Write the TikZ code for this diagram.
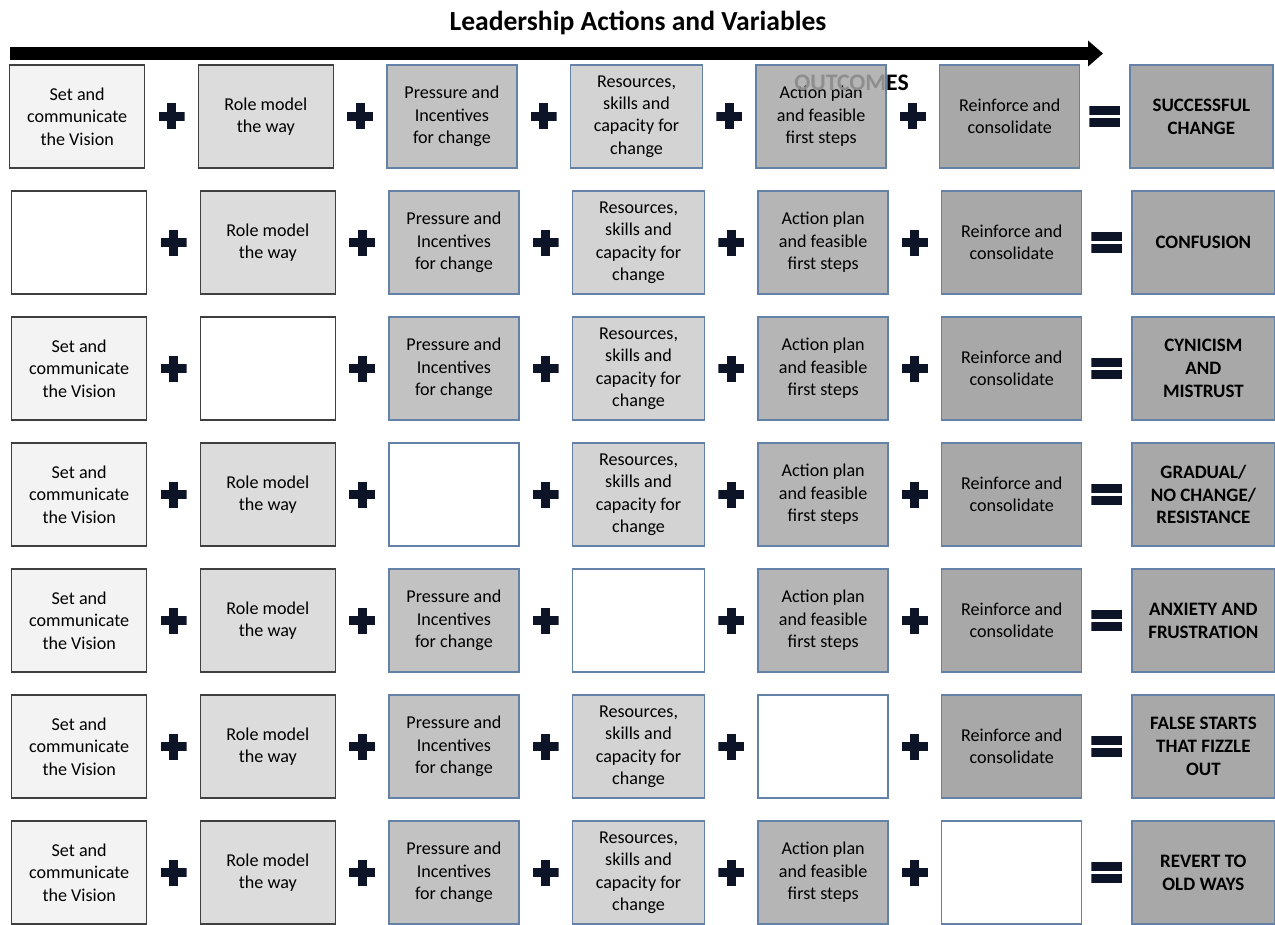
\documentclass[tikz,border=0pt]{standalone}
\usepackage{fontspec}
\setmainfont{Carlito}
\usetikzlibrary{arrows.meta, positioning}

\definecolor{darkline}{HTML}{3F3F3F}
\definecolor{blueline}{HTML}{6482A8}
\definecolor{visionfill}{HTML}{F3F3F3}
\definecolor{rolefill}{HTML}{DCDCDC}
\definecolor{pressurefill}{HTML}{C2C2C2}
\definecolor{resourcesfill}{HTML}{D3D3D3}
\definecolor{planfill}{HTML}{B5B5B5}
\definecolor{reinforcefill}{HTML}{A8A8A8}
\definecolor{opcolor}{HTML}{0E1428}
\definecolor{outgray}{HTML}{8E8E8E}

\tikzstyle{box} = [rectangle, 
			draw=darkline, 
			line width=0.8pt, 
			text centered, 
			align=center, 
			inner sep=0pt, 
			minimum height=2.06cm, 
			font=\fontsize{10.3}{12.8}\selectfont]
\tikzstyle{vision} = [box, fill=visionfill, minimum width=2.7cm]
\tikzstyle{role} = [box, fill=rolefill, minimum width=2.7cm]
\tikzstyle{pressure} = [box, draw=blueline, fill=pressurefill, minimum width=2.6cm]
\tikzstyle{resources} = [box, draw=blueline, fill=resourcesfill, minimum width=2.64cm]
\tikzstyle{plan} = [box, draw=blueline, fill=planfill, minimum width=2.6cm]
\tikzstyle{reinforce} = [box, draw=blueline, fill=reinforcefill, minimum width=2.8cm]
\tikzstyle{outcome} = [box, draw=blueline, fill=reinforcefill, minimum width=2.86cm, 
			font=\fontsize{10.8}{13}\selectfont\bfseries]
\tikzstyle{blank} = [fill=white]
\tikzstyle{plus} = [rectangle, minimum size=0.52cm, inner sep=0pt, 
			path picture={
				\fill[opcolor] (path picture bounding box.center) ++(-0.26,-0.09) rectangle ++(0.52,0.18);
				\fill[opcolor] (path picture bounding box.center) ++(-0.09,-0.26) rectangle ++(0.18,0.52);
			}]
\tikzstyle{equals} = [rectangle, minimum width=0.62cm, minimum height=0.42cm, inner sep=0pt, 
			path picture={
				\fill[opcolor] (path picture bounding box.center) ++(-0.31,0.03) rectangle ++(0.62,0.18);
				\fill[opcolor] (path picture bounding box.center) ++(-0.31,-0.03) rectangle ++(0.62,-0.18);
			}]

\begin{document}
\begin{tikzpicture}[node distance = 0.255cm]
	\useasboundingbox (0,0) rectangle (25.5,-18.48);

	\node [font=\fontsize{15.7}{18}\selectfont\bfseries] (title) at (12.76,-0.46) {Leadership Actions and Variables};
	\coordinate (arrowtail) at (0.2,-1.07);
	\coordinate (arrowtip) at (22.06,-1.07);
	\draw [line width=0.26cm, -{Triangle[length=0.3cm, width=0.5cm]}] (arrowtail) -- (arrowtip);

	\node [vision, anchor=west] (vision1) at (0.18,-2.33) {Set and\\communicate\\the Vision};
	\node [plus, right=of vision1] (plus11) {};
	\node [role, right=of plus11] (role1) {Role model\\the way};
	\node [plus, right=of role1] (plus12) {};
	\node [pressure, right=of plus12] (pressure1) {Pressure and\\Incentives\\for change};
	\node [plus, right=of pressure1] (plus13) {};
	\node [resources, right=of plus13] (resources1) {Resources,\\skills and\\capacity for\\change};
	\node [plus, right=of resources1] (plus14) {};
	\node [plan, right=of plus14] (plan1) {Action plan\\and feasible\\first steps};
	\node [plus, right=of plan1] (plus15) {};
	\node [reinforce, right=of plus15] (reinforce1) {Reinforce and\\consolidate};
	\node [equals, right=0.17cm of reinforce1] (equals1) {};
	\node [outcome, right=0.17cm of equals1] (outcome1) {SUCCESSFUL\\CHANGE};
	\node [font=\fontsize{13.5}{16}\selectfont\bfseries] (outcomes) at (17.03,-1.66) {\textcolor{outgray}{OUTCOM}ES};

	\node [vision, blank, anchor=west] (vision2) at (0.22,-4.85) {};
	\node [plus, right=of vision2] (plus21) {};
	\node [role, right=of plus21] (role2) {Role model\\the way};
	\node [plus, right=of role2] (plus22) {};
	\node [pressure, right=of plus22] (pressure2) {Pressure and\\Incentives\\for change};
	\node [plus, right=of pressure2] (plus23) {};
	\node [resources, right=of plus23] (resources2) {Resources,\\skills and\\capacity for\\change};
	\node [plus, right=of resources2] (plus24) {};
	\node [plan, right=of plus24] (plan2) {Action plan\\and feasible\\first steps};
	\node [plus, right=of plan2] (plus25) {};
	\node [reinforce, right=of plus25] (reinforce2) {Reinforce and\\consolidate};
	\node [equals, right=0.17cm of reinforce2] (equals2) {};
	\node [outcome, right=0.17cm of equals2] (outcome2) {CONFUSION};

	\node [vision, anchor=west] (vision3) at (0.22,-7.37) {Set and\\communicate\\the Vision};
	\node [plus, right=of vision3] (plus31) {};
	\node [role, blank, right=of plus31] (role3) {};
	\node [plus, right=of role3] (plus32) {};
	\node [pressure, right=of plus32] (pressure3) {Pressure and\\Incentives\\for change};
	\node [plus, right=of pressure3] (plus33) {};
	\node [resources, right=of plus33] (resources3) {Resources,\\skills and\\capacity for\\change};
	\node [plus, right=of resources3] (plus34) {};
	\node [plan, right=of plus34] (plan3) {Action plan\\and feasible\\first steps};
	\node [plus, right=of plan3] (plus35) {};
	\node [reinforce, right=of plus35] (reinforce3) {Reinforce and\\consolidate};
	\node [equals, right=0.17cm of reinforce3] (equals3) {};
	\node [outcome, right=0.17cm of equals3] (outcome3) {CYNICISM\\AND\\MISTRUST};

	\node [vision, anchor=west] (vision4) at (0.22,-9.89) {Set and\\communicate\\the Vision};
	\node [plus, right=of vision4] (plus41) {};
	\node [role, right=of plus41] (role4) {Role model\\the way};
	\node [plus, right=of role4] (plus42) {};
	\node [pressure, blank, right=of plus42] (pressure4) {};
	\node [plus, right=of pressure4] (plus43) {};
	\node [resources, right=of plus43] (resources4) {Resources,\\skills and\\capacity for\\change};
	\node [plus, right=of resources4] (plus44) {};
	\node [plan, right=of plus44] (plan4) {Action plan\\and feasible\\first steps};
	\node [plus, right=of plan4] (plus45) {};
	\node [reinforce, right=of plus45] (reinforce4) {Reinforce and\\consolidate};
	\node [equals, right=0.17cm of reinforce4] (equals4) {};
	\node [outcome, right=0.17cm of equals4] (outcome4) {GRADUAL/\\NO CHANGE/\\RESISTANCE};

	\node [vision, anchor=west] (vision5) at (0.22,-12.41) {Set and\\communicate\\the Vision};
	\node [plus, right=of vision5] (plus51) {};
	\node [role, right=of plus51] (role5) {Role model\\the way};
	\node [plus, right=of role5] (plus52) {};
	\node [pressure, right=of plus52] (pressure5) {Pressure and\\Incentives\\for change};
	\node [plus, right=of pressure5] (plus53) {};
	\node [resources, blank, right=of plus53] (resources5) {};
	\node [plus, right=of resources5] (plus54) {};
	\node [plan, right=of plus54] (plan5) {Action plan\\and feasible\\first steps};
	\node [plus, right=of plan5] (plus55) {};
	\node [reinforce, right=of plus55] (reinforce5) {Reinforce and\\consolidate};
	\node [equals, right=0.17cm of reinforce5] (equals5) {};
	\node [outcome, right=0.17cm of equals5] (outcome5) {ANXIETY AND\\FRUSTRATION};

	\node [vision, anchor=west] (vision6) at (0.22,-14.93) {Set and\\communicate\\the Vision};
	\node [plus, right=of vision6] (plus61) {};
	\node [role, right=of plus61] (role6) {Role model\\the way};
	\node [plus, right=of role6] (plus62) {};
	\node [pressure, right=of plus62] (pressure6) {Pressure and\\Incentives\\for change};
	\node [plus, right=of pressure6] (plus63) {};
	\node [resources, right=of plus63] (resources6) {Resources,\\skills and\\capacity for\\change};
	\node [plus, right=of resources6] (plus64) {};
	\node [plan, blank, right=of plus64] (plan6) {};
	\node [plus, right=of plan6] (plus65) {};
	\node [reinforce, right=of plus65] (reinforce6) {Reinforce and\\consolidate};
	\node [equals, right=0.17cm of reinforce6] (equals6) {};
	\node [outcome, right=0.17cm of equals6] (outcome6) {FALSE STARTS\\THAT FIZZLE\\OUT};

	\node [vision, anchor=west] (vision7) at (0.22,-17.45) {Set and\\communicate\\the Vision};
	\node [plus, right=of vision7] (plus71) {};
	\node [role, right=of plus71] (role7) {Role model\\the way};
	\node [plus, right=of role7] (plus72) {};
	\node [pressure, right=of plus72] (pressure7) {Pressure and\\Incentives\\for change};
	\node [plus, right=of pressure7] (plus73) {};
	\node [resources, right=of plus73] (resources7) {Resources,\\skills and\\capacity for\\change};
	\node [plus, right=of resources7] (plus74) {};
	\node [plan, right=of plus74] (plan7) {Action plan\\and feasible\\first steps};
	\node [plus, right=of plan7] (plus75) {};
	\node [reinforce, blank, right=of plus75] (reinforce7) {};
	\node [equals, right=0.17cm of reinforce7] (equals7) {};
	\node [outcome, right=0.17cm of equals7] (outcome7) {REVERT TO\\OLD WAYS};
\end{tikzpicture}
\end{document}
